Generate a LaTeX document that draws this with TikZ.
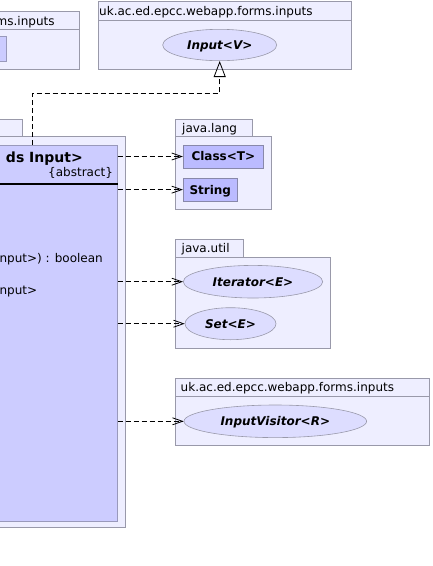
\documentclass[tikz,border=0pt]{standalone}
\usepackage{fontspec}
\setmainfont{DejaVu Sans}[ItalicFont={DejaVu Sans Oblique},BoldFont={DejaVu Sans Bold},BoldItalicFont={DejaVu Sans Bold Oblique}]
\usetikzlibrary{shapes.geometric,arrows.meta}
\definecolor{pkgfill}{HTML}{EEEEFF}
\definecolor{pkgline}{HTML}{9999AA}
\definecolor{clsfill}{HTML}{CCCCFF}
\definecolor{clsline}{HTML}{9999BB}
\definecolor{smfill}{HTML}{BBBBFF}
\definecolor{smline}{HTML}{8888AA}
\definecolor{elfill}{HTML}{DDDDFF}
\definecolor{elline}{HTML}{9999AA}
\begin{document}
\begin{tikzpicture}[x=1pt,y=-1pt,
  pkg/.style={draw=pkgline, fill=pkgfill, line width=0.8pt},
  cbox/.style={draw=clsline, fill=clsfill, line width=0.8pt},
  hdr/.style={font=\fontsize{12}{14}\selectfont, inner sep=0pt, anchor=base west},
  ctext/.style={font=\fontsize{12}{14}\selectfont, inner sep=0pt},
  smallcls/.style={rectangle, draw=smline, fill=smfill, line width=0.8pt, inner sep=0pt,
    font=\bfseries\fontsize{12}{14}\selectfont, text height=8.75pt, text depth=0pt},
  iface/.style={ellipse, draw=elline, fill=elfill, line width=0.6pt, inner sep=0pt,
    font=\bfseries\itshape\fontsize{12}{14}\selectfont, text height=8.75pt, text depth=0pt},
  dep/.style={draw=black, line width=0.8pt, dash pattern=on 5pt off 3pt,
    -{Straight Barb[length=10pt,width=7pt,line width=0.8pt]}},
  inh/.style={draw=black, line width=0.8pt, dash pattern=on 5pt off 3pt,
    -{Triangle[open,length=16pt,width=12pt,line width=0.8pt]}}
]
\useasboundingbox (0,0) rectangle (432,566);
\clip (0,0) rectangle (432,566);

% top-left package (cut)
\draw[pkg] (-50,11.7) rectangle (79,69);
\draw[pkgline, line width=0.8pt] (-50,29) -- (79,29);
\node[hdr, anchor=base east] (tlname) at (54.8,25.3) {ms.inputs};
\draw[cbox] (-50,36.7) rectangle (6.7,61);

% top-right package
\draw[pkg] (98.3,1.7) rectangle (351.7,69);
\draw[pkgline, line width=0.8pt] (98.3,20.7) -- (351.7,20.7);
\node[hdr] (trname) at (99,15.3) {uk.ac.ed.epcc.webapp.forms.inputs};
\node[iface, minimum width=114pt, minimum height=31.4pt] (inp) at (219.7,45) {Input<V>};

% main package (cut)
\draw[pkg] (-50,119.3) rectangle (22.3,136.7);
\draw[pkg] (-50,136.7) rectangle (125,527.7);
\node[cbox, rectangle, inner sep=0pt, anchor=north east, minimum width=167.7pt, minimum height=375.7pt] (cls) at (117.7,145) {};
\draw[black, line width=1.4pt] (cls.west |- 0,184) -- (cls.east |- 0,184);
\node[ctext, font=\bfseries\fontsize{14}{16}\selectfont, anchor=base east] (cname) at (83,162) {ds Input>};
\node[ctext, anchor=base east] (cabs) at (113.2,176) {\{abstract\}};
\node[ctext, anchor=base east] (m1) at (103,262.7) {nput>) : boolean};
\node[ctext, anchor=base west] (m2) at (-0.6,294.3) {nput>};

% java.lang
\draw[pkg] (175.7,119.3) rectangle (252.3,136.7);
\draw[pkg] (175.7,136.7) rectangle (271.7,209);
\node[hdr] (jlname) at (182,132) {java.lang};
\node[smallcls, minimum width=80pt, minimum height=23pt] (cT) at (223.3,156.5) {Class<T>};
\node[smallcls, minimum width=54pt, minimum height=22.7pt] (str) at (210.3,189.65) {String};

% java.util
\draw[pkg] (175.7,239.3) rectangle (243.3,257.3);
\draw[pkg] (175.7,257.3) rectangle (330.7,348.3);
\node[hdr] (juname) at (181.5,252) {java.util};
\node[iface, minimum width=139.4pt, minimum height=32.6pt] (iter) at (253,281.7) {Iterator<E>};
\node[iface, minimum width=91pt, minimum height=32pt] (set) at (230.5,323.7) {Set<E>};

% bottom package
\draw[pkg] (175.7,378.3) rectangle (429.7,445);
\draw[pkgline, line width=0.8pt] (175.7,396.7) -- (429.7,396.7);
\node[hdr] (bpname) at (180.5,391.3) {uk.ac.ed.epcc.webapp.forms.inputs};
\node[iface, minimum width=182.6pt, minimum height=32.6pt] (vis) at (275.3,421.3) {InputVisitor<R>};

% connectors
\coordinate (bend) at (32.3,93.3);
\draw[inh] (cls.north -| bend) -- (bend) -- (bend -| inp.south) -- (inp.south);
\draw[dep] (cls.east |- cT.west) -- (cT.west);
\draw[dep] (cls.east |- str.west) -- (str.west);
\draw[dep] (cls.east |- iter.west) -- (iter.west);
\draw[dep] (cls.east |- set.west) -- (set.west);
\draw[dep] (cls.east |- vis.west) -- (vis.west);
\end{tikzpicture}
\end{document}
